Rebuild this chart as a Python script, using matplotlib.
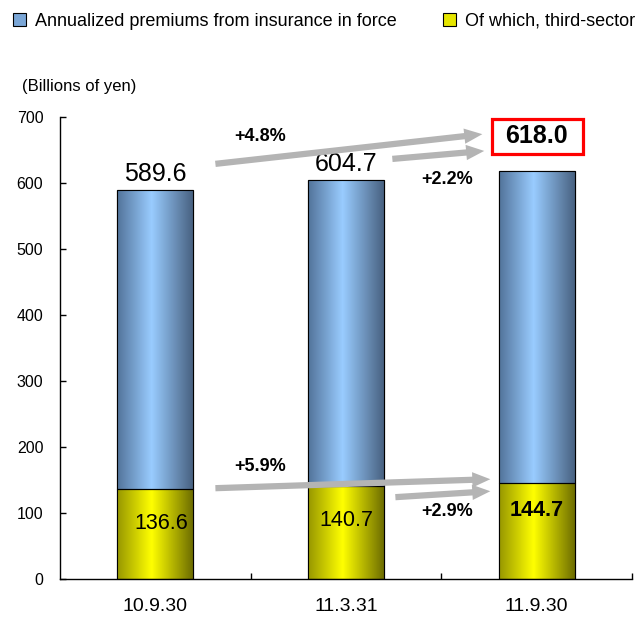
import matplotlib
matplotlib.use("Agg")
import matplotlib.pyplot as plt
import numpy as np
from matplotlib.colors import LinearSegmentedColormap
from matplotlib.patches import Rectangle

plt.rcParams['font.family'] = ['Liberation Sans', 'DejaVu Sans']

categories = ["10.9.30", "11.3.31", "11.9.30"]
total = [589.6, 604.7, 618.0]
third_sector = [136.6, 140.7, 144.7]
legend_labels = ["Annualized premiums from insurance in force", "Of which, third-sector"]
growth_total = ["+4.8%", "+2.2%"]
growth_third = ["+5.9%", "+2.9%"]
yticks = [0, 100, 200, 300, 400, 500, 600, 700]

fig = plt.figure(figsize=(6.37, 6.19), dpi=100)
ax = fig.add_axes([60/637, 40/619, 572/637, 462/619])

x = np.arange(len(categories))
w = 0.4
upper = [t - s for t, s in zip(total, third_sector)]

blue_cmap = LinearSegmentedColormap.from_list(
    "b", [(0, "#52739a"), (0.45, "#99ccff"), (1, "#465f7e")])
yel_cmap = LinearSegmentedColormap.from_list(
    "y", [(0, "#969600"), (0.45, "#ffff00"), (1, "#6a6a00")])

bars_y = ax.bar(x, third_sector, w, color="#e6e600", edgecolor="black", lw=0.8, zorder=2)
bars_b = ax.bar(x, upper, w, bottom=third_sector, color="#7aa6d6", edgecolor="black", lw=0.8, zorder=2)

grad = np.linspace(0, 1, 256).reshape(1, -1)
for bars, cmap in ((bars_y, yel_cmap), (bars_b, blue_cmap)):
    for p in bars:
        x0, y0 = p.get_x(), p.get_y()
        im = ax.imshow(grad, cmap=cmap, aspect='auto', zorder=2.5,
                       extent=[x0, x0 + p.get_width(), y0, y0 + p.get_height()])
        im.set_clip_path(p)
    for p in bars:
        ax.add_patch(Rectangle((p.get_x(), p.get_y()), p.get_width(), p.get_height(),
                               fill=False, edgecolor="black", lw=0.8, zorder=3))

ax.set_xlim(-0.5, 2.5)
ax.set_ylim(0, 700)
ax.set_yticks(yticks)
ax.set_xticks(x)
ax.set_xticklabels(categories)
ax.set_xticks([0.5, 1.5, 2.5], minor=True)
ax.tick_params(axis='x', which='major', length=0, labelsize=14, pad=14)
ax.tick_params(axis='x', which='minor', length=4, direction='in', width=1)
ax.tick_params(axis='y', direction='in', length=4, width=1, labelsize=11.5, pad=12)
for s in ("top", "right"):
    ax.spines[s].set_visible(False)
for s in ("left", "bottom"):
    ax.spines[s].set_linewidth(1)

# value labels
ax.text(x[0], total[0] + 6, f"{total[0]:.1f}", ha='center', va='bottom', fontsize=18)
ax.text(x[1], total[1] + 6, f"{total[1]:.1f}", ha='center', va='bottom', fontsize=18)
ax.text(x[2], 670.5, f"{total[2]:.1f}", ha='center', va='center', fontsize=18, fontweight='bold', zorder=6)
ax.add_patch(Rectangle((1.765, 644), 0.477, 53, fill=False, edgecolor="#ff0000", lw=2.3,
                       clip_on=False, zorder=6))
ax.text(x[0] + 0.03, third_sector[0] - 52, f"{third_sector[0]:.1f}", ha='center', va='center', fontsize=15.5, zorder=5)
ax.text(x[1], third_sector[1] - 52, f"{third_sector[1]:.1f}", ha='center', va='center', fontsize=15.5, zorder=5)
ax.text(x[2], third_sector[2] - 41, f"{third_sector[2]:.1f}", ha='center', va='center', fontsize=15.5, fontweight='bold', zorder=5)

# growth arrows
arrow_kw = dict(arrowstyle="simple,head_length=1.3,head_width=1.1,tail_width=0.45",
                color="#b4b4b4", lw=0, shrinkA=0, shrinkB=0, mutation_scale=10)
for (xs, ys, xe, ye) in [(0.315, 629, 1.715, 674), (1.243, 636.5, 1.725, 648.6),
                         (0.315, 137.6, 1.757, 151.2), (1.259, 124, 1.757, 133)]:
    ax.annotate("", xy=(xe, ye), xytext=(xs, ys), arrowprops=arrow_kw, zorder=4)

ax.text(0.551, 671, growth_total[0], ha='center', va='center', fontsize=13, fontweight='bold')
ax.text(1.531, 606, growth_total[1], ha='center', va='center', fontsize=13, fontweight='bold')
ax.text(0.551, 171, growth_third[0], ha='center', va='center', fontsize=13, fontweight='bold')
ax.text(1.531, 103, growth_third[1], ha='center', va='center', fontsize=13, fontweight='bold')

fig.text(22/637, 1 - 87/619, "(Billions of yen)", ha='left', va='center', fontsize=12)

fig.legend([bars_b, bars_y], legend_labels, ncol=2, loc='center left',
           bbox_to_anchor=(13/637, 1 - 21/619), frameon=False, fontsize=13,
           handlelength=0.7, handleheight=0.7, handletextpad=0.5, columnspacing=2.6,
           borderaxespad=0, borderpad=0)

fig.savefig("out.png", dpi=100)
